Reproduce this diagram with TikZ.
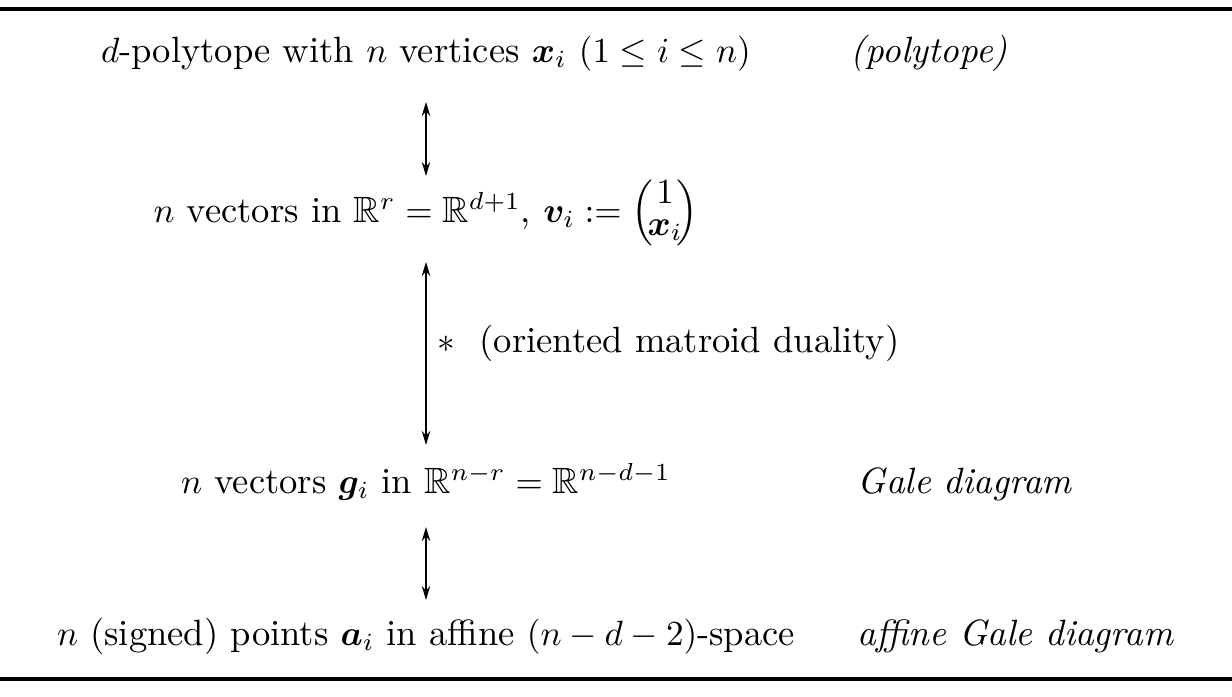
\documentclass[tikz,border=0pt]{standalone}
\usepackage{amsmath,amssymb,bm}
\usetikzlibrary{arrows.meta}
\begin{document}
\begin{tikzpicture}[x=0.01cm,y=-0.01cm,
  txt/.style={anchor=base,inner sep=0pt,font=\fontsize{10.4}{12}\selectfont},
  side/.style={anchor=base west,inner sep=0pt,font=\fontsize{10.4}{12}\selectfont\itshape},
  rulel/.style={line width=0.9pt},
  dbl/.style={line width=0.55pt,{Stealth[length=4pt,width=2.4pt]}-{Stealth[length=4pt,width=2.4pt]}}]
\useasboundingbox (0,0) rectangle (1232,696);
\coordinate (rtl) at (0,9); \coordinate (rtr) at (1232,9);
\coordinate (rbl) at (0,679); \coordinate (rbr) at (1232,679);
\draw[rulel] (rtl) -- (rtr);
\draw[rulel] (rbl) -- (rbr);
\node[txt] (l1) at (426,62) {$d$-polytope with $n$ vertices $\bm{x}_i$ $(1\le i\le n)$};
\node[side] (r1) at (850,62) {(polytope)};
\node[txt] (l2) at (426,222) {$n$ vectors in $\mathbb{R}^r=\mathbb{R}^{d+1}$, $\bm{v}_i:=\Bigl(\!\renewcommand{\arraystretch}{0.75}\begin{array}{@{}c@{}}1\\ \bm{x}_i\end{array}\!\Bigr)$};
\node[side, font=\fontsize{10.4}{12}\selectfont\upshape] (lab) at (437,352) {$*$\ \ (oriented matroid duality)};
\node[txt] (l3) at (426,493) {$n$ vectors $\bm{g}_i$ in $\mathbb{R}^{n-r}=\mathbb{R}^{n-d-1}$};
\node[side] (r3) at (857,493) {Gale diagram};
\node[txt] (l4) at (426,645) {$n$ (signed) points $\bm{a}_i$ in affine $(n-d-2)$-space};
\node[side] (r4) at (857,645) {affine Gale diagram};
\coordinate (a1t) at (426,102); \coordinate (a1b) at (426,176);
\coordinate (a2t) at (426,262); \coordinate (a2b) at (426,445);
\coordinate (a3t) at (426,527); \coordinate (a3b) at (426,600);
\draw[dbl] (a1t) -- (a1b);
\draw[dbl] (a2t) -- (a2b);
\draw[dbl] (a3t) -- (a3b);
\end{tikzpicture}
\end{document}
